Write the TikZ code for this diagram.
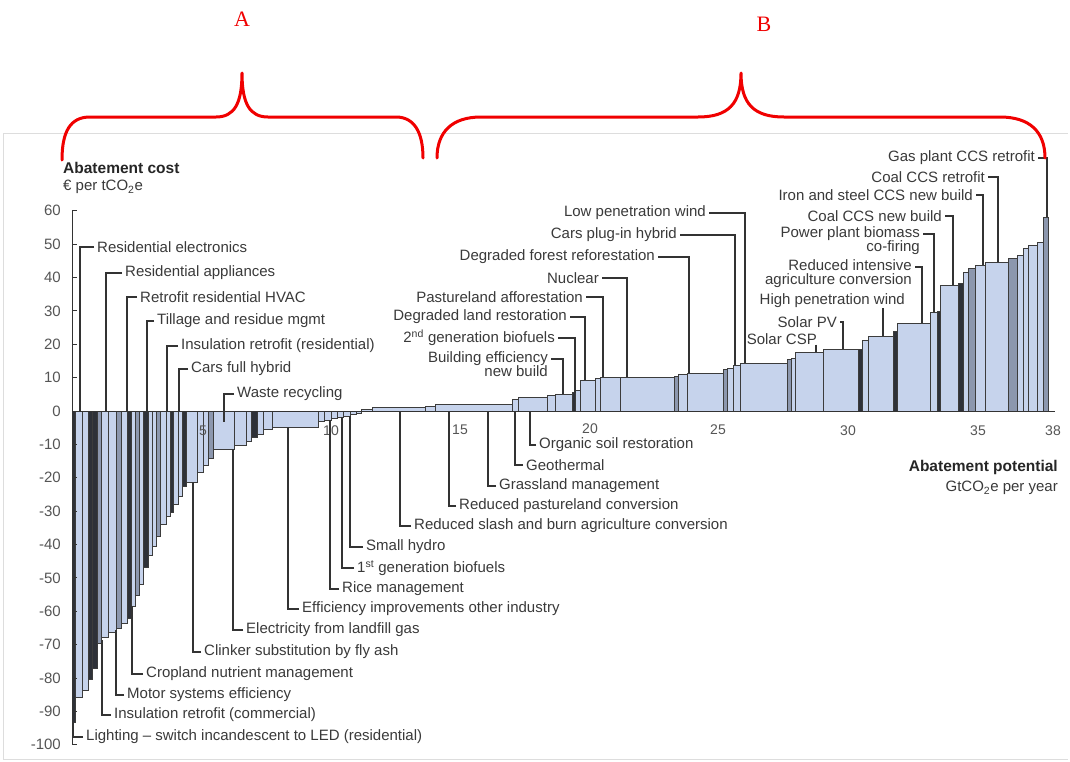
\documentclass[tikz,border=0pt]{standalone}
\usepackage{fontspec}
\setmainfont{Liberation Sans}
\newfontfamily\letterfont{Liberation Serif}
\definecolor{barfill}{HTML}{C6D3EC}
\definecolor{bardark}{HTML}{2E3138}
\definecolor{barmid}{HTML}{8C97AE}
\definecolor{baredge}{HTML}{3C3C3C}
\definecolor{leadc}{HTML}{333333}
\definecolor{labc}{HTML}{3A3A3A}
\definecolor{tickc}{HTML}{555555}
\definecolor{framec}{HTML}{DDDDDD}
\definecolor{bracered}{HTML}{F00000}
\begin{document}
\begin{tikzpicture}[x=1pt,y=-1pt,
  lab/.style={inner sep=0pt, inner xsep=3pt, text=labc, font=\fontsize{15}{14}\selectfont},
  lead/.style={draw=leadc, line width=1.1pt},
  barlt/.style={fill=barfill, draw=baredge, line width=0.7pt},
  bardk/.style={fill=bardark, draw=baredge, line width=0.7pt},
  barmd/.style={fill=barmid, draw=baredge, line width=0.7pt},
  brace/.style={draw=bracered, line width=3pt, line cap=round, line join=round},
  tickl/.style={text=tickc, font=\fontsize{15}{15}\selectfont, inner sep=0pt},
  xtickl/.style={text=tickc, font=\fontsize{14}{14}\selectfont, inner sep=0pt},
  ttl/.style={text=black!85, font=\fontsize{15.5}{15}\selectfont\bfseries, inner sep=0pt},
  sub/.style={text=labc, font=\fontsize{15}{15}\selectfont, inner sep=0pt},
  letter/.style={text=bracered, font=\fontsize{22}{22}\selectfont\letterfont, inner sep=0pt}]
\useasboundingbox (0,0) rectangle (1070,761);
\fill[white] (0,0) rectangle (1070,761);
% frame of the chart picture
\draw[draw=framec, line width=1pt] (3,759) -- (3,133) -- (1068,133);
\draw[draw=framec, line width=1pt] (3,759) -- (1068,759);

% bars
\foreach \a/\b/\c/\s in {
72/75/722/dk, 75/82/697/lt, 82/88/690/lt, 88/92/679/dk, 92/97/668/dk, 97/101/643/md,
101/108/637/lt, 108/116/632/lt, 116/121/628/md, 121/127/623/lt, 127/131/618/dk,
131/135/606/lt, 135/139/595/md, 139/143/584/lt, 143/148/567/dk, 148/152/555/lt,
152/156/546/lt, 156/160/536/md, 160/166/524/lt, 166/170/516/lt, 170/173/512/dk,
173/178/504/lt, 178/182/496/lt, 182/186/486/dk, 186/197/482/lt, 197/203/472/lt,
203/208/465/lt, 208/213/458/md, 213/234/449/lt, 234/246/445/lt, 246/251/441/lt,
251/257/437/dk, 257/263/434/lt, 263/272/429/lt, 272/318/427/lt, 318/324/421/lt,
324/331/420/lt, 331/337/418/lt, 337/343/417/lt, 343/350/416/lt, 350/356/414/lt,
356/361/413/lt,
361/372/409/lt, 372/425/407/lt, 425/435/406/lt, 435/512/404/lt, 512/518/399/lt,
518/547/397/lt, 547/555/395/lt, 555/572/394/lt, 572/575/392/dk, 575/580/390/lt,
580/595/380/lt, 595/600/378/lt, 600/620/377/lt, 620/674/377/lt, 674/678/376/md,
678/687/374/lt, 687/723/373/lt, 723/727/369/md, 727/733/368/lt, 733/740/365/lt,
740/787/363/lt, 787/791/359/md, 791/795/358/lt, 795/823/352/lt, 823/858/349/lt,
858/862/349/dk, 862/868/340/lt, 868/893/336/lt, 893/897/331/dk, 897/930/323/lt,
930/937/312/lt, 937/940/311/dk, 940/958/285/lt, 958/963/283/dk, 963/968/272/lt,
968/975/268/md, 975/985/265/lt, 985/1008/262/lt, 1008/1017/258/md, 1017/1023/255/lt,
1023/1028/248/lt, 1028/1037/245/lt, 1037/1043/242/lt, 1043/1048/217/md}
  {\filldraw[bar\s] (\a,411) rectangle (\b,\c);}

% axes
\coordinate (ytop) at (72,211);
\coordinate (ybot) at (72,745);
\coordinate (xl) at (72,411);
\coordinate (xr) at (1055,411);
\draw[draw=leadc, line width=1pt] (ytop) -- (ybot);
\draw[draw=leadc, line width=1pt] (xl) -- (xr);
\foreach \v [count=\i] in {60,50,40,30,20,10,0,-10,-20,-30,-40,-50,-60,-70,-80,-90,-100}{
  \draw[draw=leadc, line width=1pt] (72,{411-3.3375*\v}) -- (77,{411-3.3375*\v});
  \node[tickl, anchor=east] (yt\i) at (61,{411-3.3375*\v}) {\v};
}
\foreach \v/\p/\q [count=\i] in {5/203/431, 10/331/431, 15/460/430, 20/590/429, 25/718/430, 30/848/431, 35/978/431, 38/1053/431}
  {\node[xtickl] (xt\i) at (\p,\q) {\v};}

% axis titles
\node[ttl, anchor=west] (ycost) at (63,168) {Abatement cost};
\node[sub, anchor=west] (yunit) at (63,187) {€ per tCO\textsubscript{2}e};
\node[ttl, anchor=east] (xpot) at (1058,467) {Abatement potential};
\node[sub, anchor=east] (xunit) at (1058,488) {GtCO\textsubscript{2}e per year};

% top-left labels
\node[lab, anchor=west] (re) at (94,247) {Residential electronics};
\node[lab, anchor=west] (ra) at (122,273) {Residential appliances};
\node[lab, anchor=west] (rh) at (137,297) {Retrofit residential HVAC};
\node[lab, anchor=west] (tl) at (154,321) {Tillage and residue mgmt};
\node[lab, anchor=west] (ir) at (178,346) {Insulation retrofit (residential)};
\node[lab, anchor=west] (cf) at (188,369) {Cars full hybrid};
\node[lab, anchor=west] (wr) at (234,394) {Waste recycling};
\coordinate (cre) at (80,411);
\coordinate (cra) at (106,411);
\coordinate (crh) at (127,411);
\coordinate (ctl) at (147,411);
\coordinate (cir) at (167,411);
\coordinate (ccf) at (179,411);
\coordinate (cwr) at (224,422);
\foreach \n in {re,ra,rh,tl,ir,cf,wr}{\draw[lead] (\n.west) -| (c\n);}

% bottom labels
\node[lab, anchor=west] (li) at (83,737) {Lighting -- switch incandescent to LED (residential)};
\node[lab, anchor=west] (ic) at (111,715) {Insulation retrofit (commercial)};
\node[lab, anchor=west] (ms) at (124,695) {Motor systems efficiency};
\node[lab, anchor=west] (cn) at (143,674) {Cropland nutrient management};
\node[lab, anchor=west] (cs) at (201,652) {Clinker substitution by fly ash};
\node[lab, anchor=west] (el) at (243,630) {Electricity from landfill gas};
\node[lab, anchor=west] (ef) at (299,609) {Efficiency improvements other industry};
\node[lab, anchor=west] (rm) at (339,589) {Rice management};
\node[lab, anchor=west] (fg) at (354,568) {1\textsuperscript{st} generation biofuels};
\node[lab, anchor=west] (sh) at (363,547) {Small hydro};
\node[lab, anchor=west] (rs) at (411,526) {Reduced slash and burn agriculture conversion};
\node[lab, anchor=west] (rp) at (456,506) {Reduced pastureland conversion};
\node[lab, anchor=west] (gm) at (496,486) {Grassland management};
\node[lab, anchor=west] (ge) at (523,465) {Geothermal};
\node[lab, anchor=west] (os) at (536,445) {Organic soil restoration};
\coordinate (cli) at (73,722);
\coordinate (cic) at (102,640);
\coordinate (cms) at (116,630);
\coordinate (ccn) at (132,606);
\coordinate (ccs) at (193,482);
\coordinate (cel) at (233,449);
\coordinate (cef) at (288,427);
\coordinate (crm) at (330,420);
\coordinate (cfg) at (342,417);
\coordinate (csh) at (350,416);
\coordinate (crs) at (400,411);
\coordinate (crp) at (449,411);
\coordinate (cgm) at (488,411);
\coordinate (cge) at (515,411);
\coordinate (cos) at (530,411);
\foreach \n in {li,ic,ms,cn,cs,el,ef,rm,fg,sh,rs,rp,gm,ge,os}{\draw[lead] (\n.west) -| (c\n);}

% upper middle labels
\node[lab, anchor=north east, align=right] (be) at (551,351) {Building efficiency\\new build};
\node[lab, anchor=east] (sg) at (558,338) {2\textsuperscript{nd} generation biofuels};
\node[lab, anchor=east] (dl) at (570,317) {Degraded land restoration};
\node[lab, anchor=east] (pa) at (586,297) {Pastureland afforestation};
\node[lab, anchor=east] (nu) at (602,278) {Nuclear};
\node[lab, anchor=east] (df) at (658,257) {Degraded forest reforestation};
\node[lab, anchor=east] (cp) at (680,235) {Cars plug-in hybrid};
\node[lab, anchor=east] (lw) at (709,213) {Low penetration wind};
\coordinate (cbe) at (563,394);
\coordinate (csg) at (575,393);
\coordinate (cdl) at (585,380);
\coordinate (cpa) at (603,377);
\coordinate (cnu) at (627,377);
\coordinate (cdf) at (689,373);
\coordinate (ccp) at (735,365);
\coordinate (clw) at (745,363);
\draw[lead] ([yshift=-8pt]be.north east) -| (cbe);
\foreach \n in {sg,dl,pa,nu,df,cp,lw}{\draw[lead] (\n.east) -| (c\n);}

% right labels
\node[lab, anchor=east] (gp) at (1038,158) {Gas plant CCS retrofit};
\node[lab, anchor=east] (cr) at (988,177) {Coal CCS retrofit};
\node[lab, anchor=east] (is) at (976,195) {Iron and steel CCS new build};
\node[lab, anchor=east] (cc) at (945,216) {Coal CCS new build};
\node[lab, anchor=north east, align=right] (pb) at (923,226) {Power plant biomass\\co-firing};
\node[lab, anchor=north east, align=right] (ri) at (915,259) {Reduced intensive\\agriculture conversion};
\node[lab, anchor=east] (hw) at (908,301) {High penetration wind};
\node[lab, anchor=east] (sp) at (840,322) {Solar PV};
\node[lab, anchor=east] (sc) at (820,339) {Solar CSP};
\coordinate (cgp) at (1047,217);
\coordinate (ccr) at (998,262);
\coordinate (cis) at (983,265);
\coordinate (ccc) at (953,285);
\coordinate (cpb) at (934,312);
\coordinate (cri) at (922,323);
\coordinate (chw) at (883,336);
\coordinate (csp) at (843,349);
\coordinate (csc) at (816,352);
\foreach \n in {gp,cr,is,cc,sp}{\draw[lead] (\n.east) -| (c\n);}
\draw[lead] ([yshift=-8pt]pb.north east) -| (cpb);
\draw[lead] ([yshift=-8pt]ri.north east) -| (cri);
\draw[lead] (chw |- hw.south) -- (chw);
\draw[lead] (csc |- sc.south) -- (csc);

% red braces
\draw[brace] (62,160) .. controls (62,132) and (70,117) .. (90,117) -- (216,117)
  .. controls (234,117) and (242,104) .. (242,73)
  .. controls (242,104) and (250,117) .. (268,117) -- (396,117)
  .. controls (414,117) and (423,132) .. (423,158);
\draw[brace] (437,158) .. controls (437,132) and (452,117) .. (481,117) -- (698,117)
  .. controls (728,117) and (741,104) .. (741,73)
  .. controls (741,104) and (754,117) .. (784,117) -- (1000,117)
  .. controls (1030,117) and (1045,132) .. (1045,158);
\node[letter] (la) at (242,19) {A};
\node[letter] (lb) at (764,24) {B};
\end{tikzpicture}
\end{document}
